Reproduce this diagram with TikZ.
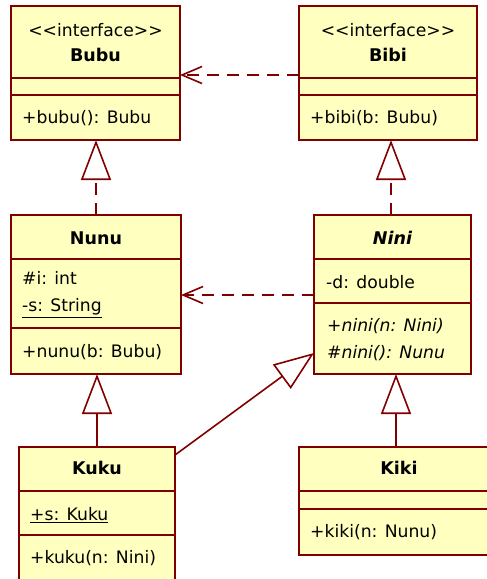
\documentclass[tikz,border=0pt]{standalone}
\usepackage{fontspec}
\setmainfont{DejaVu Sans}
\usetikzlibrary{arrows.meta}
\definecolor{umlred}{RGB}{128,0,0}
\definecolor{umlfill}{RGB}{255,255,192}
\newcommand{\stereo}{<\kern0pt<interface>\kern0pt>}
\begin{document}
\begin{tikzpicture}[x=1pt,y=-1pt,
  cls/.style={draw=umlred, fill=umlfill, line width=2pt, anchor=north west, inner sep=0pt, outer sep=0pt},
  txt/.style={inner sep=0pt, anchor=west, font=\fontsize{17.2}{27}\selectfont, align=left},
  ctr/.style={inner sep=0pt, font=\fontsize{17.2}{22}\selectfont},
  ttl/.style={inner sep=0pt, font=\fontsize{17.5}{22}\selectfont\bfseries},
  sep/.style={draw=umlred, line width=2pt},
  dep/.style={draw=umlred, line width=1.6pt, dash pattern=on 12pt off 8pt, -{Straight Barb[length=20pt,width=17pt]}},
  gen/.style={draw=umlred, line width=1.6pt, -{Triangle[open,length=40pt,width=30pt,fill=white]}},
  real/.style={gen, dash pattern=on 12pt off 8pt}]
\useasboundingbox (0,0) rectangle (487,579);
\clip (0,0) rectangle (487,579);

% classes
\node[cls, minimum width=169pt, minimum height=134pt] (bubu) at (11,6) {};
\node[cls, minimum width=178pt, minimum height=134pt] (bibi) at (299,6) {};
\node[cls, minimum width=170pt, minimum height=159pt] (nunu) at (11,215) {};
\node[cls, minimum width=157pt, minimum height=159pt] (nini) at (314,215) {};
\node[cls, minimum width=156pt, minimum height=160pt] (kuku) at (19,447) {};
\node[cls, minimum width=201pt, minimum height=108pt] (kiki) at (299,447) {};

% compartments
\draw[sep] ([yshift=-72pt]bubu.north west) -- ([yshift=-72pt]bubu.north east);
\draw[sep] ([yshift=-89pt]bubu.north west) -- ([yshift=-89pt]bubu.north east);
\draw[sep] ([yshift=-72pt]bibi.north west) -- ([yshift=-72pt]bibi.north east);
\draw[sep] ([yshift=-89pt]bibi.north west) -- ([yshift=-89pt]bibi.north east);
\draw[sep] ([yshift=-44pt]nunu.north west) -- ([yshift=-44pt]nunu.north east);
\draw[sep] ([yshift=-113pt]nunu.north west) -- ([yshift=-113pt]nunu.north east);
\draw[sep] ([yshift=-44pt]nini.north west) -- ([yshift=-44pt]nini.north east);
\draw[sep] ([yshift=-88pt]nini.north west) -- ([yshift=-88pt]nini.north east);
\draw[sep] ([yshift=-44pt]kuku.north west) -- ([yshift=-44pt]kuku.north east);
\draw[sep] ([yshift=-88pt]kuku.north west) -- ([yshift=-88pt]kuku.north east);
\draw[sep] ([yshift=-44pt]kiki.north west) -- ([yshift=-44pt]kiki.north east);
\draw[sep] ([yshift=-62pt]kiki.north west) -- ([yshift=-62pt]kiki.north east);

% texts
\node[ctr] (bubuster) at (95.5,30) {\stereo};
\node[ttl] (bubuname) at (95.5,55) {Bubu};
\node[txt] (bubuop) at (22,118) {+bubu(): Bubu};

\node[ctr] (bibister) at (388,30) {\stereo};
\node[ttl] (bibiname) at (388,55) {Bibi};
\node[txt] (bibiop) at (310,118) {+bibi(b: Bubu)};

\node[ttl] (nununame) at (96,238) {Nunu};
\node[txt] (nunuattr) at (22,294.5) {\#i: int\\\underline{-s: String}};
\node[txt] (nunuop) at (22,352) {+nunu(b: Bubu)};

\node[ttl] (nininame) at (392.5,238) {\itshape Nini};
\node[txt] (niniattr) at (326,282) {-d: double};
\node[txt] (niniop) at (327,339.5) {\itshape +nini(n: Nini)\\\itshape \#nini(): Nunu};

\node[ttl] (kukuname) at (97,468) {Kuku};
\node[txt] (kukuattr) at (30,515) {\underline{+s: Kuku}};
\node[txt] (kukuop) at (30,558) {+kuku(n: Nini)};

\node[ttl] (kikiname) at (399,468) {Kiki};
\node[txt] (kikiop) at (310,532) {+kiki(n: Nunu)};

% connectors
\draw[dep] ([yshift=-69pt]bibi.north west) -- ([yshift=-69pt]bubu.north east);
\draw[dep] ([yshift=-80pt]nini.north west) -- ([yshift=-80pt]nunu.north east);
\draw[real] (nunu.north) -- (nunu.north |- bubu.south);
\coordinate (ninitop) at ([xshift=-1.5pt]nini.north);
\draw[real] (ninitop) -- (ninitop |- bibi.south);
\draw[gen] (kuku.north) -- (kuku.north |- nunu.south);
\coordinate (kikitop) at ([xshift=-3.5pt]kiki.north);
\draw[gen] (kikitop) -- (kikitop |- nini.south);
\draw[gen] ([yshift=-8pt]kuku.north east) -- ([yshift=-138pt]nini.north west);
\end{tikzpicture}
\end{document}
